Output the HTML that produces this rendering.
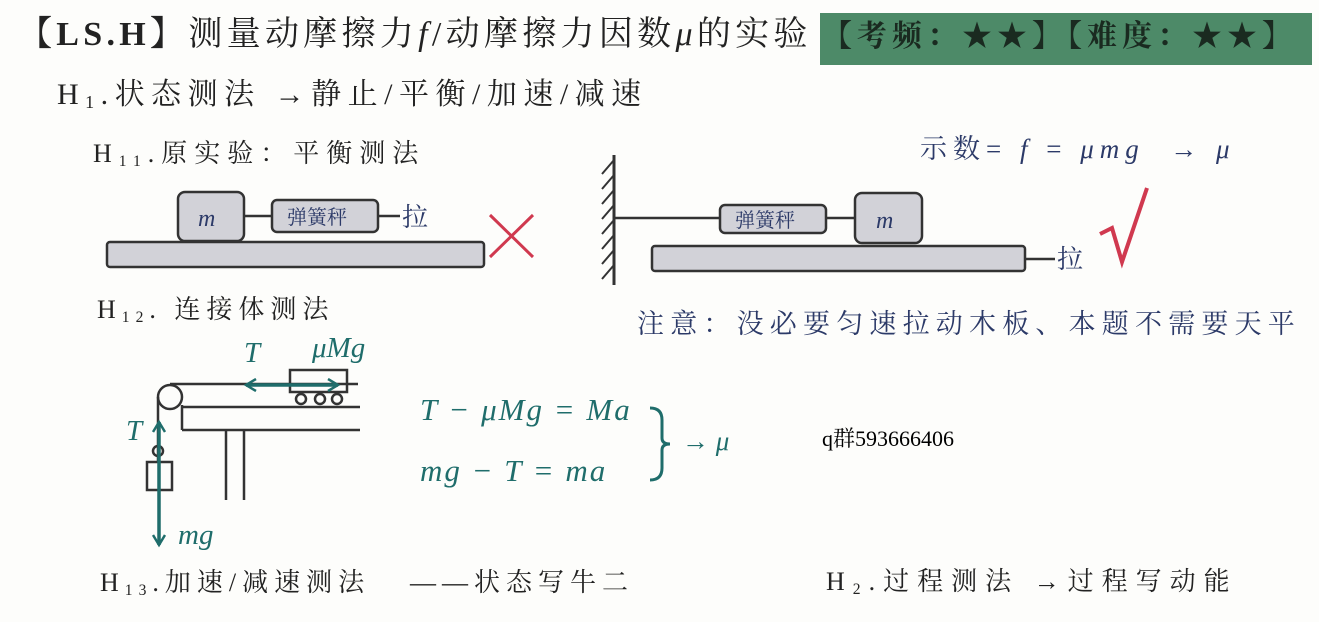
<!DOCTYPE html>
<html><head><meta charset="utf-8"><style>
body{margin:0;width:1319px;height:622px;background:#fdfdfb;position:relative;overflow:hidden;font-family:"Liberation Serif","Noto Serif CJK SC",serif;color:#222}
.t{position:absolute;white-space:nowrap;line-height:1}
.i{font-style:italic}
.teal{color:#1f6d6b}
.navy{color:#2c3a68}
sub{font-size:60%;vertical-align:-4px}
</style></head><body>
<div class="t" style="left:18px;top:18px;font-size:34px;letter-spacing:4.3px"><b>【LS.H】</b>测量动摩擦力<span class="i">f</span>/动摩擦力因数<span class="i">μ</span>的实验</div>
<div style="position:absolute;left:820px;top:13px;width:492px;height:52px;background:#4d8a68"></div>
<div class="t" style="left:822px;top:22px;font-size:30px;color:#1a2a20;font-weight:bold;letter-spacing:5px">【考频：★★】【难度：★★】</div>
<div class="t" style="left:57px;top:80px;font-size:30px;letter-spacing:6.5px">H<sub>1</sub>.状态测法 →静止/平衡/加速/减速</div>
<div class="t" style="left:93px;top:141px;font-size:26px;letter-spacing:7px">H<sub>11</sub>.原实验：平衡测法</div>
<div class="t navy" style="left:920px;top:136px;font-size:27px;letter-spacing:6px">示数= <span class="i">f</span> = <span class="i">μmg</span> &nbsp;→ <span class="i">μ</span></div>
<div class="t" style="left:97px;top:297px;font-size:26px;letter-spacing:6px">H<sub>12</sub>. 连接体测法</div>
<div class="t navy" style="left:637px;top:311px;font-size:27px;letter-spacing:6.2px">注意：没必要匀速拉动木板、本题不需要天平</div>
<div class="t teal i" style="left:420px;top:394px;font-size:31px;letter-spacing:2px">T − μMg = Ma</div>
<div class="t teal i" style="left:420px;top:455px;font-size:31px;letter-spacing:2px">mg − T = ma</div>
<div class="t teal" style="left:682px;top:428px;font-size:27px">→ <span class="i">μ</span></div>
<div class="t" style="left:822px;top:428px;font-size:22px;color:#000">q群593666406</div>
<div class="t" style="left:100px;top:570px;font-size:26px;letter-spacing:6px">H<sub>13</sub>.加速/减速测法</div>
<div class="t" style="left:410px;top:570px;font-size:26px;letter-spacing:6px">——状态写牛二</div>
<div class="t" style="left:826px;top:569px;font-size:26px;letter-spacing:8px">H<sub>2</sub>.过程测法 →过程写动能</div>
<svg width="1319" height="622" style="position:absolute;left:0;top:0" font-family="Liberation Serif, Noto Serif CJK SC, serif">
<defs><marker id="a" markerUnits="userSpaceOnUse" markerWidth="14" markerHeight="14" refX="11" refY="7" orient="auto-start-reverse"><path d="M1,1 L11,7 L1,13" fill="none" stroke="#1f6d6b" stroke-width="2.5"/></marker></defs>
<g stroke="#333" stroke-width="2.5" fill="#d2d2d8">
<rect x="107" y="242" width="377" height="25" rx="3"/>
<rect x="178" y="192" width="66" height="49" rx="7"/>
<rect x="272" y="200" width="106" height="32" rx="5"/>
<line x1="244" y1="216" x2="272" y2="216"/><line x1="378" y1="216" x2="400" y2="216"/>
<rect x="652" y="246" width="373" height="25" rx="3"/>
<rect x="855" y="193" width="67" height="50" rx="7"/>
<rect x="720" y="205" width="106" height="28" rx="5"/>
<line x1="614" y1="218" x2="720" y2="218"/><line x1="826" y1="218" x2="855" y2="218"/>
<line x1="1025" y1="259" x2="1055" y2="259"/>
<line x1="614" y1="155" x2="614" y2="285" stroke-width="3"/>
</g>
<g stroke="#333" stroke-width="2">
<path d="M614,160 l-12,14 M614,175 l-12,14 M614,190 l-12,14 M614,205 l-12,14 M614,220 l-12,14 M614,235 l-12,14 M614,250 l-12,14 M614,265 l-12,14"/>
</g>
<g font-size="24" fill="#2c3a68"><text x="198" y="226" font-style="italic">m</text><text x="876" y="228" font-style="italic">m</text>
<text x="287" y="224" font-size="20">弹簧秤</text><text x="735" y="227" font-size="20">弹簧秤</text>
<text x="402" y="226" font-size="26">拉</text><text x="1057" y="268" font-size="26">拉</text></g>
<path d="M490,215 L533,257 M533,215 L490,257" stroke="#d0394f" stroke-width="3"/>
<path d="M1100,234 L1112,228 L1122,262 L1147,188" stroke="#d0394f" stroke-width="4" fill="none"/>
<g stroke="#333" stroke-width="2.5" fill="none">
<circle cx="170" cy="397" r="12"/>
<line x1="170" y1="384" x2="358" y2="384"/>
<line x1="182" y1="407" x2="360" y2="407"/><line x1="182" y1="430" x2="360" y2="430"/><line x1="182" y1="405" x2="182" y2="430"/>
<line x1="226" y1="430" x2="226" y2="500"/><line x1="244" y1="430" x2="244" y2="500"/>
<line x1="158" y1="397" x2="158" y2="462"/>
<circle cx="158" cy="451" r="5"/>
<rect x="147" y="462" width="25" height="28"/>
<rect x="290" y="370" width="57" height="22"/>
<circle cx="301" cy="399" r="5"/><circle cx="320" cy="399" r="5"/><circle cx="337" cy="399" r="5"/>
</g>
<g stroke="#1f6d6b" stroke-width="3.5" fill="none">
<line x1="246" y1="385" x2="338" y2="385" marker-end="url(#a)" marker-start="url(#a)"/>
<line x1="159" y1="422" x2="159" y2="545" marker-end="url(#a)" marker-start="url(#a)"/>
</g>
<g fill="#1f6d6b" font-style="italic" font-size="29"><text x="244" y="362">T</text><text x="312" y="357">μMg</text><text x="126" y="440">T</text><text x="178" y="544">mg</text></g>
<path d="M650,408 q12,0 12,12 v18 q0,6 8,6 q-8,0 -8,6 v18 q0,12 -12,12" stroke="#1f6d6b" stroke-width="3" fill="none"/>
</svg>
</body></html>
